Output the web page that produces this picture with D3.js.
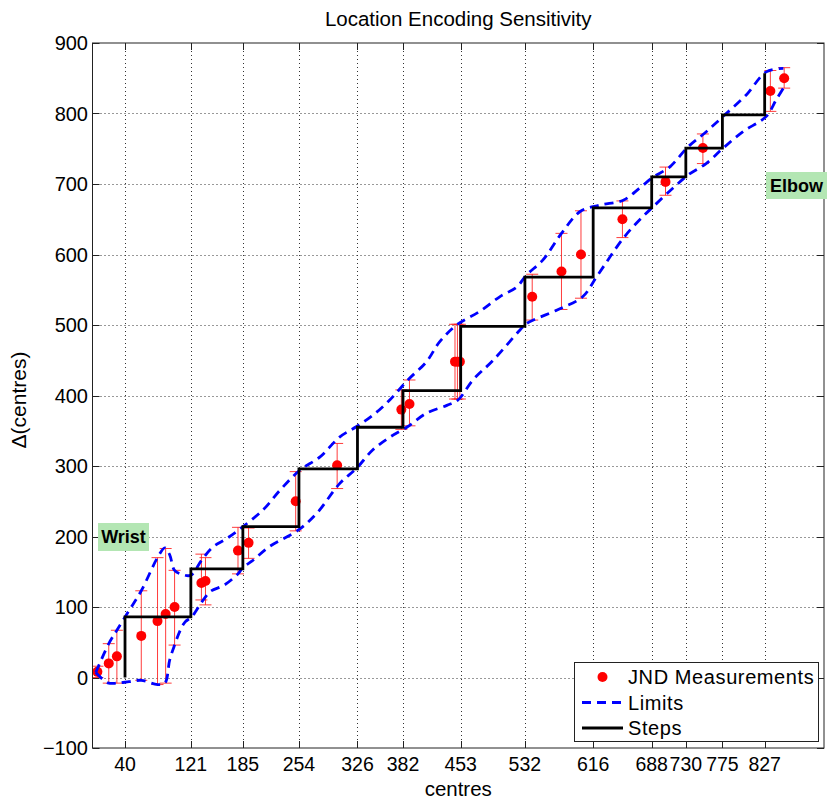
<!DOCTYPE html>
<html>
<head>
<meta charset="utf-8">
<script src="https://cdn.jsdelivr.net/npm/d3@7"></script>
<style>
  body { margin: 0; background: #fff; }
  svg text { font-family: 'Liberation Sans', Arial, Helvetica, sans-serif; fill: #000; }
</style>
</head>
<body>
<svg id="chart" width="827" height="800"></svg>
<script>
// Tick positions (centres along the arm)
const xTickValues = [40, 121, 185, 254, 326, 382, 453, 532, 616, 688, 730, 775, 827];
const yTickValues = [-100, 0, 100, 200, 300, 400, 500, 600, 700, 800, 900];

// Step function: vertical rise at each edge to the listed level
const stepEdges = [40, 121, 185, 254, 326, 382, 453, 532, 616, 688, 730, 775, 827];
const stepBase = 0;
const stepLevels = [86, 154, 214, 296, 355, 407, 498, 568, 666, 710, 751, 798, 857];

// JND measurements with their error ranges
const jndX    = [6, 20, 30, 60, 80, 90, 101, 134, 139, 179, 192, 250, 301, 380, 390, 446, 449, 452, 541, 577, 601, 652, 705, 751, 834, 851];
const jndY    = [8, 20, 30, 59, 80, 90, 100, 134, 137, 180, 191, 250, 301, 380, 388, 448, 448, 448, 540, 576, 600, 650, 703, 751, 832, 850];
const jndLow  = [0, -8, -8, -4, -10, -8, 46, 110, 103, 147, 169, 208, 268, 352, 357, 395, 395, 395, 507, 522, 538, 624, 684, 729, 803, 836];
const jndHigh = [16, 48, 67, 123, 170, 183, 152, 175, 170, 213, 212, 292, 332, 408, 422, 501, 501, 501, 572, 630, 662, 676, 724, 771, 861, 865];

// Upper and lower limit curves
const upperX = [4, 20, 30, 45, 60, 80, 89, 95, 101, 111, 121, 134, 148, 165, 184, 210, 231, 255, 280, 304, 325, 345, 366, 388, 411, 427, 448, 476, 501, 522, 534, 554, 577, 600, 624, 653, 673, 690, 710, 733, 753, 776, 804, 829, 850];
const upperY = [7, 48, 67, 95, 123, 170, 184, 174, 152, 146, 145, 166, 185, 197, 213, 238, 266, 294, 313, 341, 356, 372, 394, 422, 448, 476, 500, 519, 540, 554, 571, 592, 630, 661, 670, 677, 694, 710, 724, 753, 772, 796, 826, 859, 864];
const lowerX = [4, 12, 20, 30, 45, 60, 80, 89, 95, 101, 108, 114, 122, 135, 145, 162, 179, 185, 196, 218, 253, 276, 304, 325, 345, 366, 388, 411, 436, 450, 468, 493, 526, 534, 571, 603, 620, 653, 673, 690, 714, 733, 755, 776, 800, 829, 841, 850];
const lowerY = [7, -2, -8, -8, -6, -4, -10, -8, 25, 46, 67, 79, 86, 108, 122, 131, 147, 156, 165, 186, 209, 233, 275, 297, 323, 341, 356, 375, 386, 394, 422, 450, 493, 502, 521, 540, 568, 623, 649, 668, 694, 713, 729, 751, 774, 796, 819, 836];

const legendLabels = ["JND Measurements", "Limits", "Steps"];

const svg = d3.select("#chart");
const plot = { left: 92.5, right: 824, top: 43, bottom: 748 };

const x = d3.scaleLinear().domain([0, 900]).range([plot.left, plot.right]);
const y = d3.scaleLinear().domain([-100, 900]).range([plot.bottom, plot.top]);

// Background
svg.append("rect").attr("x", 0).attr("y", 0).attr("width", 827).attr("height", 800).attr("fill", "#fff");

// Dotted grid
const grid = svg.append("g").attr("stroke", "#000").attr("stroke-width", 1)
  .attr("stroke-dasharray", "1,3").attr("opacity", 0.8);
grid.selectAll("line.gx").data(xTickValues).join("line").attr("class", "gx")
  .attr("x1", d => Math.round(x(d)) + 0.5).attr("x2", d => Math.round(x(d)) + 0.5)
  .attr("y1", plot.top).attr("y2", plot.bottom);
grid.selectAll("line.gy").data(yTickValues.slice(1, -1)).join("line").attr("class", "gy")
  .attr("y1", d => Math.round(y(d)) + 0.5).attr("y2", d => Math.round(y(d)) + 0.5)
  .attr("x1", plot.left).attr("x2", plot.right);

const clip = svg.append("defs").append("clipPath").attr("id", "plotclip");
clip.append("rect").attr("x", plot.left).attr("y", plot.top)
  .attr("width", plot.right - plot.left).attr("height", plot.bottom - plot.top);

const marks = svg.append("g").attr("clip-path", "url(#plotclip)");

// Error bars
const jnd = jndX.map((d, i) => ({ x: d, y: jndY[i], lo: jndLow[i], hi: jndHigh[i] }));
const capHalf = 6;
const eb = marks.append("g").attr("stroke", "#ff1a1a").attr("stroke-width", 1).attr("stroke-opacity", 0.85);
eb.selectAll("line.v").data(jnd).join("line").attr("class", "v")
  .attr("x1", d => x(d.x)).attr("x2", d => x(d.x))
  .attr("y1", d => y(d.lo)).attr("y2", d => y(d.hi));
eb.selectAll("line.t").data(jnd).join("line").attr("class", "t")
  .attr("x1", d => x(d.x) - capHalf).attr("x2", d => x(d.x) + capHalf)
  .attr("y1", d => y(d.hi)).attr("y2", d => y(d.hi));
eb.selectAll("line.b").data(jnd).join("line").attr("class", "b")
  .attr("x1", d => x(d.x) - capHalf).attr("x2", d => x(d.x) + capHalf)
  .attr("y1", d => y(d.lo)).attr("y2", d => y(d.lo));

// Measurement dots
marks.append("g").selectAll("circle").data(jnd).join("circle")
  .attr("cx", d => x(d.x)).attr("cy", d => y(d.y)).attr("r", 5).attr("fill", "#ff0000");

// Limits
const limitLine = d3.line().x(d => x(d[0])).y(d => y(d[1])).curve(d3.curveCatmullRom.alpha(0.5));
const upper = upperX.map((d, i) => [d, upperY[i]]);
const lower = lowerX.map((d, i) => [d, lowerY[i]]);
[upper, lower].forEach(pts => {
  marks.append("path").attr("d", limitLine(pts)).attr("fill", "none")
    .attr("stroke", "#0000ff").attr("stroke-width", 2.8).attr("stroke-dasharray", "9,6");
});

// Steps
const stepPts = [[stepEdges[0], stepBase]];
stepEdges.forEach((e, i) => {
  stepPts.push([e, stepLevels[i]]);
  if (i < stepEdges.length - 1) stepPts.push([stepEdges[i + 1], stepLevels[i]]);
});
marks.append("path").attr("d", d3.line().x(d => x(d[0])).y(d => y(d[1]))(stepPts))
  .attr("fill", "none").attr("stroke", "#000").attr("stroke-width", 2.8)
  .attr("stroke-linejoin", "miter");

// Axes box with inward ticks
const tickLen = 7;
const axes = svg.append("g").attr("stroke", "#222").attr("stroke-width", 1);
axes.append("rect").attr("x", plot.left).attr("y", plot.top)
  .attr("width", plot.right - plot.left).attr("height", plot.bottom - plot.top).attr("fill", "none");
xTickValues.forEach(v => {
  const px = Math.round(x(v)) + 0.5;
  axes.append("line").attr("x1", px).attr("x2", px).attr("y1", plot.bottom).attr("y2", plot.bottom - tickLen);
  axes.append("line").attr("x1", px).attr("x2", px).attr("y1", plot.top).attr("y2", plot.top + tickLen);
});
yTickValues.forEach(v => {
  const py = Math.round(y(v)) + 0.5;
  axes.append("line").attr("y1", py).attr("y2", py).attr("x1", plot.left).attr("x2", plot.left + tickLen);
  axes.append("line").attr("y1", py).attr("y2", py).attr("x1", plot.right).attr("x2", plot.right - tickLen);
});

// Tick labels
svg.append("g").selectAll("text").data(xTickValues).join("text")
  .attr("x", d => x(d)).attr("y", 771).attr("text-anchor", "middle")
  .attr("font-size", 19.5).text(d => d);
svg.append("g").selectAll("text").data(yTickValues).join("text")
  .attr("x", 88).attr("y", d => y(d)).attr("dy", "0.36em").attr("text-anchor", "end")
  .attr("font-size", 20).text(d => d < 0 ? "\u2212" + Math.abs(d) : d);

// Title and axis labels
svg.append("text").attr("x", (plot.left + plot.right) / 2).attr("y", 26)
  .attr("text-anchor", "middle").attr("font-size", 20.5).text("Location Encoding Sensitivity");
svg.append("text").attr("x", (plot.left + plot.right) / 2).attr("y", 796)
  .attr("text-anchor", "middle").attr("font-size", 20.5).text("centres");
svg.append("text").attr("transform", `translate(26, 400) rotate(-90)`)
  .attr("text-anchor", "middle").attr("font-size", 21).text("\u0394(centres)");

// Region annotations
const notes = [
  { label: "Wrist", x: 98, y: 523, w: 51, h: 28 },
  { label: "Elbow", x: 766, y: 172, w: 61, h: 27 }
];
notes.forEach(n => {
  svg.append("rect").attr("x", n.x).attr("y", n.y).attr("width", n.w).attr("height", n.h)
    .attr("fill", "rgb(179,230,179)");
  svg.append("text").attr("x", n.x + n.w / 2).attr("y", n.y + n.h / 2).attr("dy", "0.36em")
    .attr("text-anchor", "middle").attr("font-size", 18).attr("font-weight", "bold").text(n.label);
});

// Legend
const lg = svg.append("g");
lg.append("rect").attr("x", 574.5).attr("y", 662.5).attr("width", 244).attr("height", 79)
  .attr("fill", "#fff").attr("stroke", "#222").attr("stroke-width", 1);
const rowY = [677, 702.5, 728];
lg.append("circle").attr("cx", 602.5).attr("cy", rowY[0]).attr("r", 5).attr("fill", "#ff0000");
lg.append("line").attr("x1", 582).attr("x2", 623).attr("y1", rowY[1]).attr("y2", rowY[1])
  .attr("stroke", "#0000ff").attr("stroke-width", 2.8).attr("stroke-dasharray", "9,6");
lg.append("line").attr("x1", 582).attr("x2", 623).attr("y1", rowY[2]).attr("y2", rowY[2])
  .attr("stroke", "#000").attr("stroke-width", 2.8);
lg.selectAll("text").data(legendLabels).join("text")
  .attr("x", 628).attr("y", (d, i) => rowY[i]).attr("dy", "0.36em")
  .attr("font-size", 20).attr("letter-spacing", 0.6).text(d => d);
</script>
</body>
</html>
